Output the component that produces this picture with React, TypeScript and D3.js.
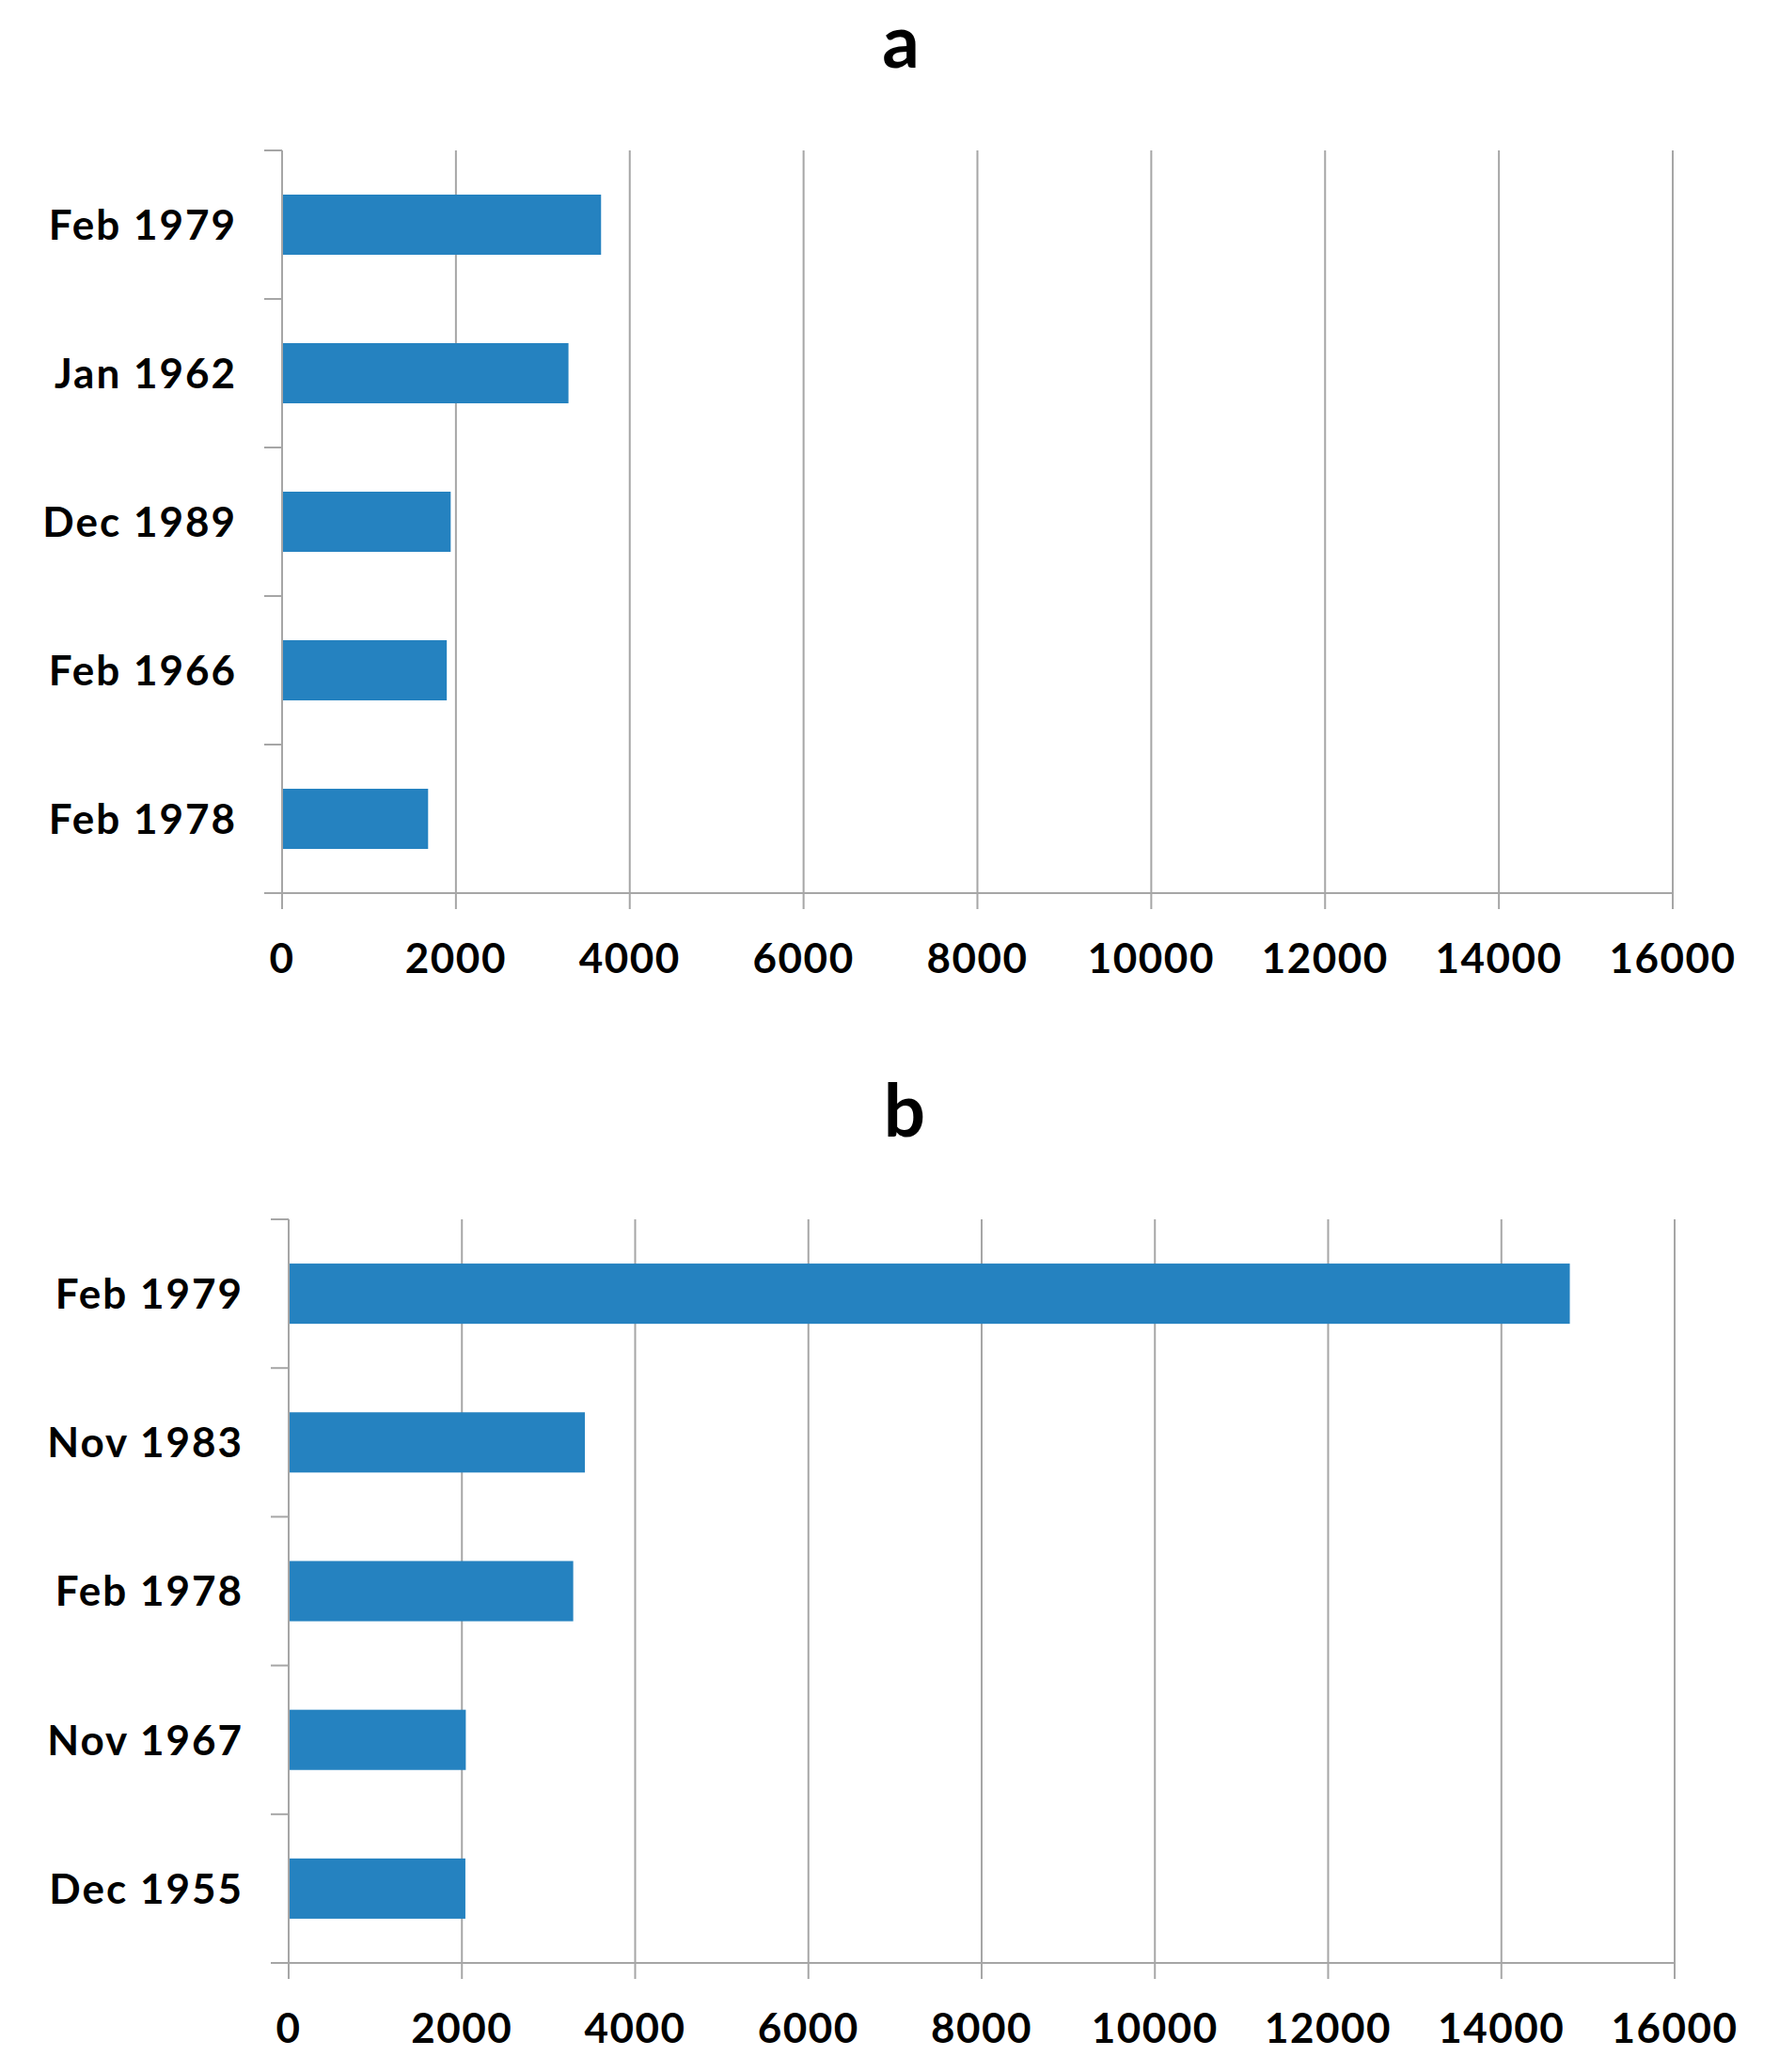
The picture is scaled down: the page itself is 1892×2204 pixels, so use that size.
import React from 'react';
import * as d3 from 'd3';

const categoriesA = ['Feb 1979', 'Jan 1962', 'Dec 1989', 'Feb 1966', 'Feb 1978'];
const valuesA = [3670, 3295, 1940, 1895, 1680];

const categoriesB = ['Feb 1979', 'Nov 1983', 'Feb 1978', 'Nov 1967', 'Dec 1955'];
const valuesB = [14790, 3420, 3285, 2045, 2040];

const xTicks = [0, 2000, 4000, 6000, 8000, 10000, 12000, 14000, 16000];

const FONT = 'Lato, "Open Sans", sans-serif';
const BAR = '#2582c0';
const GRID = '#a6a6a6';

interface PanelProps {
  title: string;
  titleX: number;
  titleY: number;
  categories: string[];
  values: number[];
  left: number;
  right: number;
  top: number;
  bottom: number;
}

const Panel: React.FC<PanelProps> = ({ title, titleX, titleY, categories, values, left, right, top, bottom }) => {
  const x = d3.scaleLinear().domain([0, 16000]).range([left, right]);
  const pad = 0.595;
  const y = d3.scaleBand<string>()
    .domain(categories)
    .range([top, bottom])
    .paddingInner(pad)
    .paddingOuter(pad / 2);
  const step = y.step();
  const bounds = d3.range(categories.length).map(i => top + i * step);

  return (
    <g>
      <text x={titleX} y={titleY} textAnchor="middle" fontFamily={FONT} fontWeight="bold" fontSize={78} fill="#000">
        {title}
      </text>

      {/* vertical gridlines */}
      {xTicks.slice(1).map(t => (
        <line key={'g' + t} x1={x(t)} x2={x(t)} y1={top} y2={bottom + 17} stroke={GRID} strokeWidth={2} />
      ))}

      {/* bars */}
      {categories.map((c, i) => (
        <rect key={c} x={x(0)} y={y(c)} width={x(values[i]) - x(0)} height={y.bandwidth()} fill={BAR} />
      ))}

      {/* axes */}
      <line x1={x(0)} x2={x(0)} y1={top} y2={bottom + 17} stroke={GRID} strokeWidth={2} />
      <line x1={x(0) - 19} x2={right} y1={bottom} y2={bottom} stroke={GRID} strokeWidth={2} />
      {bounds.map(b => (
        <line key={'t' + b} x1={x(0) - 19} x2={x(0)} y1={b} y2={b} stroke={GRID} strokeWidth={2} />
      ))}

      {/* category labels */}
      {categories.map(c => (
        <text
          key={'l' + c}
          x={x(0) - 48}
          y={(y(c) ?? 0) + y.bandwidth() / 2}
          dy="0.36em"
          textAnchor="end"
          fontFamily={FONT}
          fontWeight="bold"
          fontSize={44}
          letterSpacing={2}
          fill="#000"
        >
          {c}
        </text>
      ))}

      {/* value labels */}
      {xTicks.map(t => (
        <text
          key={'x' + t}
          x={x(t)}
          y={bottom + 85}
          textAnchor="middle"
          fontFamily={FONT}
          fontWeight="bold"
          fontSize={44}
          letterSpacing={1.5}
          fill="#000"
        >
          {t}
        </text>
      ))}
    </g>
  );
};

export default function App() {
  return (
    <svg width={1892} height={2204} style={{ position: 'absolute', left: 0, top: 0, background: '#fff' }}>
      <rect width={1892} height={2204} fill="#fff" />
      <Panel title="a" titleX={958} titleY={72} categories={categoriesA} values={valuesA} left={300} right={1779} top={160} bottom={950} />
      <Panel title="b" titleX={962} titleY={1209} categories={categoriesB} values={valuesB} left={307} right={1781} top={1297} bottom={2088} />
    </svg>
  );
}
